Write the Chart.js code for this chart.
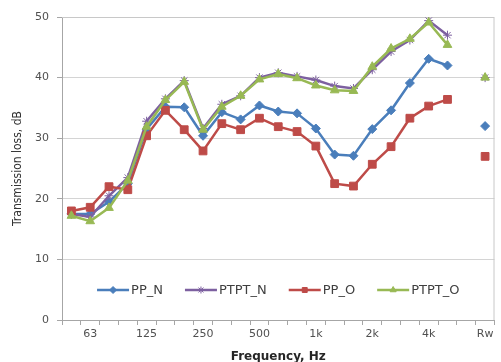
<!DOCTYPE html>
<html>
<head>
<meta charset="utf-8">
<script src="https://cdn.jsdelivr.net/npm/chart.js"></script>
<style>
  html, body { margin: 0; padding: 0; background: #fff; overflow: hidden; }
  #tl-chart { display: block; }
</style>
</head>
<body>
<canvas id="tl-chart" width="501" height="362"></canvas>
<script>
// third-octave bands, an empty slot, then the single-number rating
var bands = ['50', '63', '80', '100', '125', '160', '200', '250', '315', '400', '500',
  '630', '800', '1000', '1250', '1600', '2000', '2500', '3150', '4000', '5000', '', 'Rw'];
var tickLabels = ['', '63', '', '', '125', '', '', '250', '', '', '500',
  '', '', '1k', '', '', '2k', '', '', '4k', '', '', 'Rw'];

var ppN = [17.5, 17.5, 19.5, 22.5, 31.5, 35.2, 35.1, 30.4, 34.3, 33.1, 35.4,
  34.4, 34.1, 31.6, 27.3, 27.1, 31.5, 34.6, 39.1, 43.1, 42.0, null, 32];
var ptptN = [17.5, 17.0, 20.5, 23.5, 32.8, 36.5, 39.5, 31.6, 35.6, 37.0, 40.0,
  40.8, 40.2, 39.6, 38.6, 38.2, 41.3, 44.3, 46.2, 49.4, 47.0, null, 40];
var ppO = [18.0, 18.6, 22.0, 21.5, 30.4, 34.6, 31.4, 27.9, 32.4, 31.4, 33.3,
  31.9, 31.1, 28.7, 22.5, 22.1, 25.7, 28.6, 33.3, 35.3, 36.4, null, 27];
var ptptO = [17.2, 16.3, 18.5, 23.0, 31.9, 36.3, 39.3, 31.4, 35.2, 37.0, 39.7,
  40.6, 39.9, 38.7, 37.9, 37.8, 41.8, 44.8, 46.4, 49.1, 45.4, null, 40];

var ctx = document.getElementById('tl-chart').getContext('2d');

function series(label, data, color, style, radius, order) {
  return {
    label: label,
    data: data,
    borderColor: color,
    backgroundColor: color,
    borderWidth: 2.5,
    pointStyle: style,
    pointRadius: radius,
    pointBorderWidth: 1,
    pointBackgroundColor: color,
    pointBorderColor: color,
    spanGaps: false,
    tension: 0,
    order: order
  };
}

// plot frame + legend drawn inside the plot area, like the original
var frame = {
  id: 'frame',
  beforeDatasetsDraw: function (chart) {
    var a = chart.chartArea, c = chart.ctx;
    c.save();
    c.strokeStyle = '#c8c8c8';
    c.lineWidth = 1;
    c.beginPath();
    c.moveTo(a.left, a.top + 0.5);
    c.lineTo(a.right - 0.5, a.top + 0.5);
    c.lineTo(a.right - 0.5, a.bottom);
    c.stroke();
    c.restore();
  },
  afterDraw: function (chart) {
    var a = chart.chartArea, c = chart.ctx;
    var sets = chart.data.datasets;
    var y = 290, lineLen = 32, gap = 22;
    c.save();
    c.font = '13px "DejaVu Sans", sans-serif';
    c.textBaseline = 'middle';
    var total = 0, widths = [];
    sets.forEach(function (ds) {
      var w = c.measureText(ds.label).width;
      widths.push(w);
      total += lineLen + 2 + w;
    });
    total += gap * (sets.length - 1);
    var x = (a.left + a.right) / 2 - total / 2;
    sets.forEach(function (ds, i) {
      c.strokeStyle = ds.borderColor;
      c.fillStyle = ds.borderColor;
      c.lineWidth = 2.5;
      c.beginPath();
      c.moveTo(x, y);
      c.lineTo(x + lineLen, y);
      c.stroke();
      c.lineWidth = 1;
      Chart.helpers.drawPoint(c, {
        pointStyle: ds.pointStyle,
        radius: 3.5,
        borderWidth: 1,
        rotation: 0
      }, x + lineLen / 2, y);
      c.fillStyle = '#404040';
      c.fillText(ds.label, x + lineLen + 2, y + 1);
      x += lineLen + 2 + widths[i] + gap;
    });
    c.restore();
  }
};

var chart = new Chart(ctx, {
  type: 'line',
  data: {
    labels: bands,
    datasets: [
      series('PP_N', ppN, '#4a7ebb', 'rectRot', 4.5, 4),
      series('PTPT_N', ptptN, '#7d60a0', 'star', 4.5, 3),
      series('PP_O', ppO, '#be4b48', 'rect', 5.5, 2),
      series('PTPT_O', ptptO, '#98b954', 'triangle', 5, 1)
    ]
  },
  options: {
    responsive: false,
    animation: false,
    devicePixelRatio: 1,
    layout: { padding: { top: 17, right: 1, left: 0, bottom: 0 } },
    plugins: {
      legend: { display: false },
      tooltip: { enabled: false }
    },
    scales: {
      x: {
        offset: true,
        grid: {
          offset: true,
          drawOnChartArea: false,
          drawTicks: true,
          tickLength: 5,
          color: '#a6a6a6'
        },
        border: { color: '#a6a6a6' },
        ticks: {
          autoSkip: false,
          maxRotation: 0,
          padding: 3,
          color: '#505050',
          font: { family: 'DejaVu Sans', size: 11 },
          callback: function (v, i) { return tickLabels[i]; }
        },
        title: {
          display: true,
          text: 'Frequency, Hz',
          color: '#262626',
          font: { family: 'DejaVu Sans', size: 12, weight: 'bold' },
          padding: { top: 0, bottom: -2 }
        },
        afterFit: function (s) { s.height = 42; }
      },
      y: {
        min: 0,
        max: 50,
        grid: {
          color: '#d4d4d4',
          tickLength: 5,
          tickColor: '#a6a6a6'
        },
        border: { color: '#a6a6a6' },
        ticks: {
          stepSize: 10,
          padding: 8,
          color: '#505050',
          font: { family: 'DejaVu Sans', size: 11 }
        },
        title: {
          display: true,
          text: 'Transmission loss, dB',
          color: '#333333',
          font: { family: '"Liberation Sans Narrow", "DejaVu Sans Condensed", sans-serif', size: 12 },
          padding: { top: 11, bottom: 0 }
        },
        afterFit: function (s) { s.width = 62; }
      }
    }
  },
  plugins: [frame]
});
</script>
</body>
</html>
